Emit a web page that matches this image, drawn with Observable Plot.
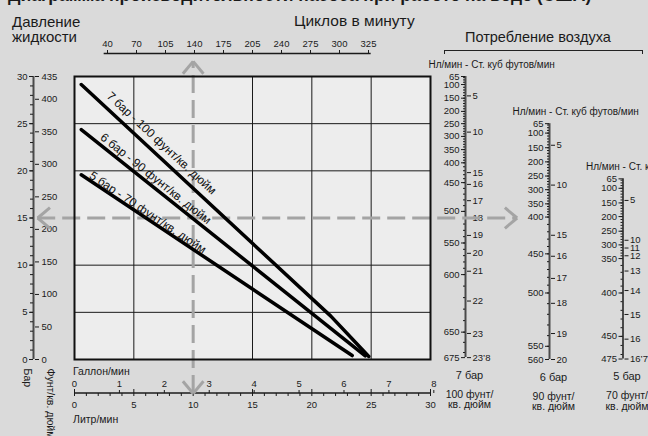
<!DOCTYPE html>
<html><head><meta charset="utf-8">
<script src="https://cdn.jsdelivr.net/npm/d3@7"></script>
<script src="https://cdn.jsdelivr.net/npm/@observablehq/plot@0.6"></script>
<style>
html,body{margin:0;padding:0;background:#dadada;}
#chart{position:relative;width:648px;height:436px;overflow:hidden;font-family:"Liberation Sans",Arial,Helvetica,sans-serif;color:#1a1a1a;}
#chart svg{position:absolute;left:0;top:0;}
.lbl{position:absolute;white-space:nowrap;}
</style></head><body>
<div id="chart">
  <div class="lbl" style="left:8px;top:-14px;font-size:17.5px;line-height:18px;font-weight:bold;">Диаграмма производительности насоса при работе на воде (США)</div>
  <div class="lbl" style="left:12px;top:14px;font-size:15px;line-height:15px;">Давление<br>жидкости</div>
  <div class="lbl" style="left:294px;top:13px;font-size:15.5px;line-height:15px;">Циклов в минуту</div>
  <div class="lbl" style="left:465px;top:30px;font-size:14.5px;line-height:15px;">Потребление воздуха</div>
  <div style="position:absolute;left:444px;top:50px;width:199px;height:4px;box-sizing:border-box;border:1.5px solid #222;border-bottom:none;"></div>
  <div class="lbl" style="left:73px;top:366px;font-size:10.5px;line-height:10.5px;">Галлон/мин</div>
  <div class="lbl" style="left:73px;top:414px;font-size:10.5px;line-height:10.5px;">Литр/мин</div>
</div>
<script>
// ---------------- data ----------------
const litreTicks = [0, 5, 10, 15, 20, 25, 30];
const gallonTicks = [0, 1, 2, 3, 4, 5, 6, 7, 8];
const cyclesPerMin = [40, 70, 105, 140, 175, 205, 240, 275, 300, 325];
const barTicks = [0, 5, 10, 15, 20, 25, 30];
const psiTicks = [0, 50, 100, 150, 200, 250, 300, 350, 400, 435];
const exampleLitres = [10];
const exampleBar = [15];

// fluid pressure (bar) vs flow (l/min) for each air pressure
const curve7 = [{litres: 0.57, bar: 29.15}, {litres: 21.6, bar: 4.6}, {litres: 24.8, bar: 0.32}];
const curve6 = [{litres: 0.57, bar: 24.38}, {litres: 24.5, bar: 0.38}];
const curve5 = [{litres: 0.57, bar: 19.58}, {litres: 23.4, bar: 0.42}];
const curveLabels = ["7 бар - 100 фунт/кв. дюйм", "6 бар - 90 фунт/кв. дюйм", "5 бар - 70 фунт/кв. дюйм"];

// air consumption scales: Nl/min tick values and the fluid pressure (bar) they line up with
const air7Nl  = [65, 100, 150, 200, 250, 300, 350, 400, 450, 500, 550, 600, 650, 675];
const air7Bar = [30.0, 29.15, 27.7, 26.3, 25.0, 23.65, 22.25, 20.85, 18.75, 15.7, 12.35, 9.0, 2.9, 0.2];
const air7Scfm = [5, 10, 15, 16, 17, 18, 19, 20, 21, 22, 23];
const air6Nl  = [65, 100, 150, 200, 250, 300, 350, 400, 450, 500, 550, 560];
const air6Bar = [25.0, 24.0, 22.45, 20.95, 19.45, 18.0, 16.5, 15.1, 11.2, 7.05, 1.4, 0.0];
const air6Scfm = [5, 10, 15, 16, 17, 18, 19];
const air5Nl  = [65, 100, 150, 200, 250, 300, 350, 400, 450, 475];
const air5Bar = [19.15, 18.15, 16.6, 15.15, 13.6, 12.15, 10.7, 7.05, 2.45, 0.05];
const air5Scfm = [5, 10, 11, 12, 13, 14, 15, 16];
const airEndLabels = ["23’8", "20", "16’7"];
const airBarLabels = ["7 бар", "6 бар", "5 бар"];
const airPsiLabels = ["100 фунт/\nкв. дюйм", "90 фунт/\nкв. дюйм", "70 фунт/\nкв. дюйм"];
const airUnitTitle = "Нл/мин - Ст. куб футов/мин";

// ---------------- layout ----------------
const FONT = '"Liberation Sans", Arial, Helvetica, sans-serif';
const W = 648, H = 436;
const X0 = 74, X1 = 430, Y0 = 76, Y1 = 359;
const LMAX = 30, BMAX = 30;
const pxL = (X1 - X0) / LMAX, pxB = (Y1 - Y0) / BMAX;
const LITRES_PER_GALLON = 3.785, PSI_PER_BAR = 14.5, NL_PER_SCFM = 28.317;
const INK = "#1a1a1a", AXIS = "#4a4a4a", GUIDE = "#a4a4a4";
const root = document.getElementById("chart");

function layer(opts) {
  const svg = Plot.plot({
    width: W, height: H,
    style: {background: "transparent", overflow: "visible", fontFamily: FONT, fontSize: "9px", color: INK},
    ...opts
  });
  root.appendChild(svg);
  return svg;
}

// ---- left axis: bar / psi ----
const AXL = 33;
layer({
  marginLeft: AXL, marginRight: W - AXL - 1, marginTop: Y0, marginBottom: H - Y1,
  x: {domain: [0, 1], axis: null}, y: {domain: [0, BMAX], axis: null},
  marks: [
    Plot.ruleX([0], {stroke: AXIS, strokeWidth: 2}),
    Plot.axisY({ticks: d3.range(0, BMAX + 1, 1), anchor: "left", tickSize: 3, tickFormat: () => "", label: null}),
    Plot.axisY({ticks: barTicks, anchor: "left", tickSize: 4, tickPadding: 2, label: null, fontSize: 9.5}),
    Plot.axisY({ticks: psiTicks.map(p => p / PSI_PER_BAR), anchor: "right", tickSize: 4, tickPadding: 3,
      tickFormat: d => Math.round(d * PSI_PER_BAR), label: null, fontSize: 9.5}),
    Plot.text(["Бар"], {frameAnchor: "bottom-left", rotate: 90, textAnchor: "start", dx: -10, dy: 9, fontSize: 10.5}),
    Plot.text(["Фунт/кв. дюйм"], {frameAnchor: "bottom-left", rotate: 90, textAnchor: "start", dx: 13, dy: 9, fontSize: 10.5})
  ]
});

// ---- top axis: cycles per minute ----
const CYC_FIRST_L = 2.5, CYC_LAST_L = 25, CYC_Y = 53;
layer({
  marginLeft: X0 + CYC_FIRST_L * pxL, marginRight: W - (X0 + CYC_LAST_L * pxL),
  marginTop: CYC_Y, marginBottom: H - CYC_Y - 10,
  x: {type: "point", domain: cyclesPerMin, padding: 0, axis: null},
  y: {domain: [0, 1], axis: null},
  marks: [
    Plot.ruleY([1], {stroke: INK, strokeWidth: 1.5}),
    Plot.axisX({anchor: "top", tickSize: 4, tickPadding: 3, label: null, fontSize: 9.5})
  ]
});

// ---- bottom axis: gallons / litres ----
const BOT_Y = 392;
layer({
  marginLeft: X0, marginRight: W - X1, marginTop: BOT_Y, marginBottom: H - BOT_Y - 1,
  x: {domain: [0, LMAX], axis: null}, y: {domain: [0, 1], axis: null},
  marks: [
    Plot.ruleY([0.5], {stroke: INK, strokeWidth: 1.5}),
    Plot.axisX({ticks: d3.range(0, LMAX + 1, 1), anchor: "bottom", tickSize: 3, tickFormat: () => "", label: null}),
    Plot.axisX({ticks: litreTicks, anchor: "top", tickSize: 4, tickFormat: () => "", label: null}),
    Plot.axisX({ticks: litreTicks, anchor: "bottom", tickSize: 0, tickPadding: 8, label: null, fontSize: 9.5}),
    Plot.axisX({ticks: gallonTicks.map(g => g * LITRES_PER_GALLON), anchor: "top", tickSize: 3, tickPadding: 3,
      tickFormat: d => Math.round(d / LITRES_PER_GALLON), label: null, fontSize: 9.5})
  ]
});

// ---- air consumption scales (positioned on the fluid-pressure scale) ----
function airLayer(i, nl, bars, scfm, axisX) {
  const toBar = d3.scaleLinear().domain(nl).range(bars);   // piecewise Nl/min -> bar
  const nlMin = nl[0], nlMax = nl[nl.length - 1];
  const minor = d3.range(Math.ceil(nlMin / 10) * 10, nlMax + 1, 10);
  const nlLabel = new Map(nl.map(v => [toBar(v), v]));
  const scfmBar = scfm.map(v => toBar(v * NL_PER_SCFM));
  const scfmLabel = new Map(scfm.map((v, k) => [scfmBar[k], v]));
  layer({
    marginLeft: axisX, marginRight: W - axisX - 1, marginTop: Y0, marginBottom: H - Y1,
    x: {domain: [0, 1], axis: null},
    y: {domain: [0, BMAX], axis: null},
    marks: [
      Plot.ruleX([0], {y1: toBar(nlMin), y2: toBar(nlMax), stroke: AXIS, strokeWidth: 2}),
      Plot.axisY({ticks: minor.map(toBar), anchor: "left", tickSize: 2, tickFormat: () => "", label: null}),
      Plot.axisY({ticks: nl.map(toBar), anchor: "left", tickSize: 4, tickPadding: 2,
        tickFormat: d => nlLabel.get(d), label: null, fontSize: 9.5}),
      Plot.axisY({ticks: scfmBar, anchor: "right", tickSize: 4, tickPadding: 2,
        tickFormat: d => scfmLabel.get(d), label: null, fontSize: 9.5}),
      Plot.axisY({ticks: [toBar(nlMax)], anchor: "right", tickSize: 4, tickPadding: 2,
        tickFormat: () => airEndLabels[i], label: null, fontSize: 9.5}),
      Plot.text([{b: toBar(nlMin), t: airUnitTitle}], {y: "b", text: "t", frameAnchor: "left", dx: -37, dy: -12, textAnchor: "start", fontSize: 10}),
      Plot.text([{b: toBar(nlMax), t: airBarLabels[i]}], {y: "b", text: "t", frameAnchor: "left", textAnchor: "middle", dx: 4, dy: 17.5, fontSize: 11}),
      Plot.text([{b: toBar(nlMax), t: airPsiLabels[i]}], {y: "b", text: "t", frameAnchor: "left", textAnchor: "middle", dx: 4, dy: 42, fontSize: 10.5, lineHeight: 1})
    ]
  });
}
airLayer(0, air7Nl, air7Bar, air7Scfm, 465);
airLayer(1, air6Nl, air6Bar, air6Scfm, 549);
airLayer(2, air5Nl, air5Bar, air5Scfm, 622.5);

// ---- main chart ----
const ARM = 16, ARM_ANGLE = 40 * Math.PI / 180;
const guideTips = [
  {x: exampleLitres[0], y: 31.6, dir: [0, -1]},
  {x: exampleLitres[0], y: -3.6, dir: [0, 1]},
  {x: -3.1, y: exampleBar[0], dir: [-1, 0]},
  {x: 37.3, y: exampleBar[0], dir: [1, 0]}
];
const chevrons = guideTips.flatMap(t => [-1, 1].map(s => {
  const bx = -t.dir[0], by = -t.dir[1];
  const c = Math.cos(s * ARM_ANGLE), sn = Math.sin(s * ARM_ANGLE);
  const rx = bx * c - by * sn, ry = bx * sn + by * c;
  return {x1: t.x, y1: t.y, x2: t.x + rx * ARM / pxL, y2: t.y - ry * ARM / pxB};
}));

const curves = [curve7, curve6, curve5];
const labelAt = [6.67, 6.43, 5.92];
const labelOff = [11.5, 8, 5.5];
function pointAt(c, L) {
  for (let k = 0; k < c.length - 1; k++) {
    const a = c[k], b = c[k + 1];
    if (L >= a.litres && L <= b.litres) {
      const t = (L - a.litres) / (b.litres - a.litres);
      return {bar: a.bar + t * (b.bar - a.bar), a, b};
    }
  }
}
const labelMarks = curves.map((c, i) => {
  const p = pointAt(c, labelAt[i]);
  const ang = Math.atan2((p.a.bar - p.b.bar) * pxB, (p.b.litres - p.a.litres) * pxL);
  return Plot.text([{litres: labelAt[i], bar: p.bar, t: curveLabels[i]}], {
    x: "litres", y: "bar", text: "t", rotate: ang * 180 / Math.PI,
    dx: Math.sin(ang) * labelOff[i], dy: -Math.cos(ang) * labelOff[i],
    fontSize: 12, fill: "#111"
  });
});

layer({
  marginLeft: X0, marginRight: W - X1, marginTop: Y0, marginBottom: H - Y1,
  x: {domain: [0, LMAX], axis: null}, y: {domain: [0, BMAX], axis: null},
  marks: [
    Plot.frame({fill: "#ededed"}),
    Plot.ruleX(litreTicks.filter(v => v > 0 && v < LMAX && !exampleLitres.includes(v)), {stroke: INK, strokeWidth: 1}),
    Plot.ruleY(barTicks.filter(v => v > 0 && v < BMAX && !exampleBar.includes(v)), {stroke: INK, strokeWidth: 1}),
    Plot.ruleX(exampleLitres, {x: d => d, y1: -3.6, y2: 31.6, stroke: GUIDE, strokeWidth: 3, strokeDasharray: "18,7"}),
    Plot.ruleY(exampleBar, {y: d => d, x1: -3.1, x2: 37.3, stroke: GUIDE, strokeWidth: 3, strokeDasharray: "18,7"}),
    Plot.link(chevrons, {x1: "x1", y1: "y1", x2: "x2", y2: "y2", stroke: GUIDE, strokeWidth: 3}),
    ...curves.map(c => Plot.line(c, {x: "litres", y: "bar", stroke: "#000", strokeWidth: 3.5})),
    ...labelMarks,
    Plot.frame({stroke: "#111", strokeWidth: 2})
  ]
});
</script>
</body></html>
